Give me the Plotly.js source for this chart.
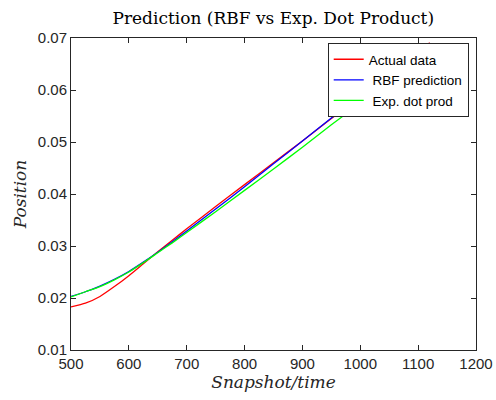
<!DOCTYPE html>
<html>
<head>
<meta charset="utf-8">
<script src="https://cdn.plot.ly/plotly-3.0.1.min.js"></script>
<style>html,body{margin:0;padding:0;background:#fff;}#chart{width:496px;height:400px;}</style>
</head>
<body>
<div id="chart"></div>
<script>
const snapshots = [500, 525, 550, 575, 600, 625, 650, 675, 700, 750, 800, 850, 900, 950, 1000, 1050, 1100, 1120];
const actualData = [0.0183, 0.0190, 0.0203, 0.0222, 0.0243, 0.0266, 0.0289, 0.0311, 0.0333, 0.0376, 0.0418, 0.0460, 0.0502, 0.0545, 0.0587, 0.0630, 0.0673, 0.0691];
const rbfPrediction = [0.0203, 0.0212, 0.0223, 0.0236, 0.0251, 0.0269, 0.0288, 0.0308, 0.0329, 0.0371, 0.0414, 0.0458, 0.0502, 0.0546, 0.0589, 0.0632, 0.0674, 0.0690];
const expDotProd = [0.0202, 0.0212, 0.0222, 0.0235, 0.0250, 0.0268, 0.0287, 0.0306, 0.0326, 0.0366, 0.0407, 0.0448, 0.0490, 0.0533, 0.0575, 0.0618, 0.0661, 0.0679];
const seriesNames = ["Actual data", " RBF prediction", " Exp. dot prod"];
const xTicks = [500, 600, 700, 800, 900, 1000, 1100, 1200];
const yTicks = [0.01, 0.02, 0.03, 0.04, 0.05, 0.06, 0.07];

const axisColor = '#262626';
const tickFont = {family: 'Liberation Sans, Arial, sans-serif', size: 15, color: axisColor};
const serif = 'DejaVu Serif, Liberation Serif, serif';

const traces = [
  {x: snapshots, y: actualData, name: seriesNames[0], mode: 'lines', line: {color: '#ff0000', width: 1.3}},
  {x: snapshots, y: rbfPrediction, name: seriesNames[1], mode: 'lines', line: {color: '#0000ff', width: 1.3}},
  {x: snapshots, y: expDotProd, name: seriesNames[2], mode: 'lines', line: {color: '#00ff00', width: 1.3}}
].map(t => Object.assign(t, {line: Object.assign(t.line, {shape: 'spline', smoothing: 0.6})}));

const layout = {
  width: 496, height: 400,
  margin: {l: 71, r: 20, t: 38, b: 50},
  paper_bgcolor: '#ffffff', plot_bgcolor: '#ffffff',
  title: {text: 'Prediction (RBF vs Exp. Dot Product)', font: {family: serif, size: 17, color: '#000'}, x: 0.551, xanchor: 'center', y: 0.955, yanchor: 'middle'},
  xaxis: {
    range: [500, 1200], tickvals: xTicks, ticktext: xTicks.map(String),
    ticks: 'inside', ticklen: 5, tickcolor: axisColor, tickwidth: 1,
    showline: true, linecolor: axisColor, linewidth: 1, mirror: 'ticks',
    showgrid: false, zeroline: false, tickfont: tickFont,
    title: {text: '<i>Snapshot/time</i>', font: {family: serif, size: 17, color: axisColor}, standoff: 2}
  },
  yaxis: {
    range: [0.01, 0.07], tickvals: yTicks, ticktext: yTicks.map(v => v.toFixed(2)),
    ticks: 'inside', ticklen: 5, tickcolor: axisColor, tickwidth: 1,
    showline: true, linecolor: axisColor, linewidth: 1, mirror: 'ticks',
    showgrid: false, zeroline: false, tickfont: tickFont,
    title: {text: '<i>Position</i>', font: {family: serif, size: 17, color: axisColor}, standoff: 6}
  },
  showlegend: true,
  legend: {
    x: 0.982, y: 0.984, xanchor: 'right', yanchor: 'top',
    bgcolor: '#ffffff', bordercolor: '#262626', borderwidth: 1,
    font: {family: 'Liberation Sans, Arial, sans-serif', size: 13.5, color: '#000'},
    tracegroupgap: 0, itemwidth: 30
  }
};

Plotly.newPlot('chart', traces, layout, {displayModeBar: false, staticPlot: true});
</script>
</body>
</html>
